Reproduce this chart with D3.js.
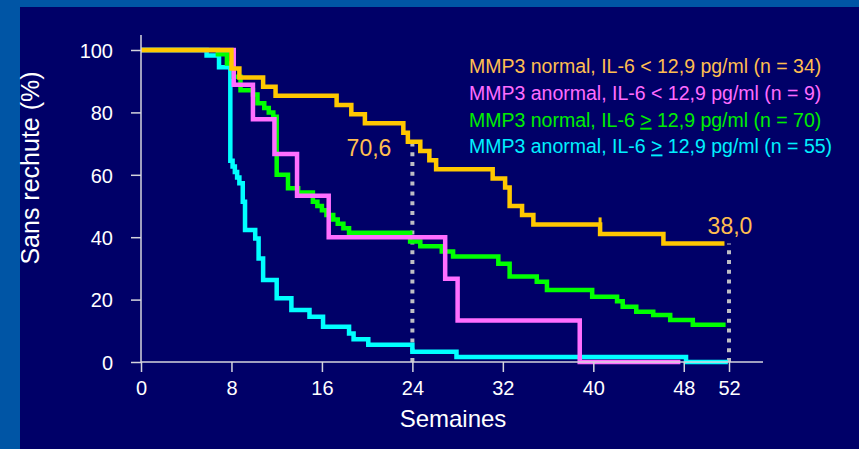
<!DOCTYPE html>
<html>
<head>
<meta charset="utf-8">
<script src="https://cdn.jsdelivr.net/npm/d3@7"></script>
<style>
  html, body { margin: 0; padding: 0; background: #0055a5; }
  svg { display: block; }
  text { font-family: "Liberation Sans", Arial, Helvetica, sans-serif; }
</style>
</head>
<body>
<svg id="chart" width="859" height="449"></svg>
<script>
// Kaplan-Meier curves: week of each step and relapse-free percentage after it
const orangeWeeks = [0, 8.0, 8.7, 10.8, 11.9, 17.3, 18.6, 19.8, 23.2, 23.6, 24.7, 25.5, 26.1, 31.1, 32.2, 32.6, 33.7, 34.7, 40.6, 46.2, 51.6];
const orangeSurv  = [100, 94.1, 91.2, 88.2, 85.3, 82.4, 79.4, 76.5, 73.5, 70.6, 67.6, 64.7, 61.8, 58.8, 55.9, 50.0, 47.1, 44.1, 41.0, 38.0, 38.0];
const orangeCensorWeeks = [40.6];
const orangeCensorSurv  = [44.1];

const pinkWeeks = [0, 8.2, 9.9, 11.8, 13.8, 16.6, 26.9, 28.0, 38.8, 47.7];
const pinkSurv  = [100, 88.9, 77.8, 66.7, 53.3, 40.0, 26.7, 13.3, 0, 0];

const greenWeeks = [0, 6.8, 7.6, 8.2, 8.8, 9.9, 10.3, 10.9, 11.3, 11.7, 12.0, 13.0, 13.9, 15.2, 15.6, 16.0, 16.4, 17.0, 17.4, 17.9, 18.4, 23.8, 24.7, 26.6, 27.6, 31.6, 32.6, 35.0, 35.9, 39.9, 42.1, 42.6, 43.8, 45.3, 46.8, 48.8, 51.7];
const greenSurv  = [100, 98.6, 95.7, 91.4, 87.1, 85.7, 82.9, 81.4, 80.0, 78.6, 60.0, 55.7, 54.3, 51.4, 50.0, 48.6, 47.1, 45.7, 44.3, 42.9, 41.4, 38.6, 37.1, 35.4, 33.8, 31.5, 27.4, 25.7, 23.1, 20.9, 19.5, 17.7, 16.1, 15.1, 13.5, 11.9, 11.9];

const cyanWeeks = [0, 5.8, 6.9, 7.9, 8.1, 8.3, 8.5, 8.7, 9.0, 9.2, 10.1, 10.4, 10.8, 12.0, 13.3, 14.9, 16.1, 18.4, 18.8, 20.1, 24.0, 27.9, 48.2, 51.9];
const cyanSurv  = [100, 98.2, 94.5, 64.5, 62.7, 60.9, 59.1, 57.3, 51.4, 42.3, 39.6, 33.2, 26.3, 20.4, 16.7, 14.5, 11.3, 9.1, 7.3, 5.5, 3.3, 1.6, 0, 0];

// Axis ticks and titles
const xTicks = [0, 8, 16, 24, 32, 40, 48, 52];
const yTicks = [0, 20, 40, 60, 80, 100];
const xTitle = "Semaines";
const yTitle = "Sans rechute (%)";

// Reference values marked by dotted drop lines
const calloutWeeks  = [24, 52];
const calloutValues = [70.6, 38.0];
const calloutLabels = ["70,6", "38,0"];

// Legend entries (sign part is kept separate so "≥" can be drawn as underlined ">")
const legendStart = ["MMP3 normal, IL-6 ", "MMP3 anormal, IL-6 ", "MMP3 normal, IL-6 ", "MMP3 anormal, IL-6 "];
const legendSign  = ["<", "<", ">", ">"];
const legendSignUnderlined = [false, false, true, true];
const legendEnd   = [" 12,9 pg/ml (n = 34)", " 12,9 pg/ml (n = 9)", " 12,9 pg/ml (n = 70)", " 12,9 pg/ml (n = 55)"];

const lineColors = { orange: "#ffc800", pink: "#ff6eff", green: "#00ff00", cyan: "#00ffff" };
const textColors = ["#ffbe50", "#ff6cff", "#00ee00", "#00f0ff"];

const svg = d3.select("#chart");
const W = 859, H = 449;

// Slide frame
svg.append("rect").attr("x", 0).attr("y", 0).attr("width", W).attr("height", H).attr("fill", "#0055a5");
svg.append("rect").attr("x", 20).attr("y", 7).attr("width", W - 20).attr("height", H - 7).attr("fill", "#000068");

const x = d3.scaleLinear().domain([0, 52]).range([141, 729]);
const y = d3.scaleLinear().domain([0, 100]).range([362, 50]);

const axisColor = "#d4d4dc";

// Dotted reference lines
calloutWeeks.forEach((w, i) => {
  svg.append("line")
    .attr("x1", x(w)).attr("x2", x(w))
    .attr("y1", y(0)).attr("y2", y(calloutValues[i]))
    .attr("stroke", "#bdbdc4").attr("stroke-width", 4)
    .attr("stroke-dasharray", "4 5.8");
});

// Survival curves (drawn bottom-most first)
const line = d3.line()
  .x(d => x(d[0]))
  .y(d => y(d[1]))
  .curve(d3.curveStepAfter);

const series = [
  { weeks: cyanWeeks,   surv: cyanSurv,   color: lineColors.cyan },
  { weeks: greenWeeks,  surv: greenSurv,  color: lineColors.green },
  { weeks: pinkWeeks,   surv: pinkSurv,   color: lineColors.pink },
  { weeks: orangeWeeks, surv: orangeSurv, color: lineColors.orange }
];

series.forEach(s => {
  const pts = s.weeks.map((w, i) => [w, s.surv[i]]);
  svg.append("path")
    .datum(pts)
    .attr("d", line)
    .attr("fill", "none")
    .attr("stroke", s.color)
    .attr("stroke-width", 4.5)
    .attr("stroke-linejoin", "miter");
});

// Censor marks
orangeCensorWeeks.forEach((w, i) => {
  svg.append("line")
    .attr("x1", x(w)).attr("x2", x(w))
    .attr("y1", y(orangeCensorSurv[i])).attr("y2", y(orangeCensorSurv[i]) - 7)
    .attr("stroke", lineColors.orange).attr("stroke-width", 3);
});

// Axes
const xAxis = svg.append("g").attr("transform", `translate(0,${y(0)})`)
  .call(d3.axisBottom(x).tickValues(xTicks).tickFormat(d3.format("d")).tickSize(10).tickPadding(8));
const yAxis = svg.append("g").attr("transform", `translate(${x(0)},0)`)
  .call(d3.axisLeft(y).tickValues(yTicks).tickFormat(d3.format("d")).tickSize(10).tickPadding(18));

[xAxis, yAxis].forEach(g => {
  g.select(".domain").remove();
  g.selectAll(".tick line").attr("stroke", axisColor).attr("stroke-width", 1.5);
  g.selectAll(".tick text").attr("fill", "#ffffff").attr("font-size", 20)
    .style("font-family", "'Liberation Sans', Arial, sans-serif");
});
xAxis.selectAll(".tick text").attr("dy", "0.75em");
yAxis.selectAll(".tick text").attr("dy", "0.36em");

// Axis lines
svg.append("line").attr("x1", x(0)).attr("x2", x(0)).attr("y1", 35).attr("y2", y(0))
  .attr("stroke", axisColor).attr("stroke-width", 1.5);
svg.append("line").attr("x1", x(0)).attr("x2", 763).attr("y1", y(0)).attr("y2", y(0))
  .attr("stroke", axisColor).attr("stroke-width", 1.5);

// Axis titles
svg.append("text").attr("x", 453).attr("y", 427).attr("text-anchor", "middle")
  .attr("fill", "#ffffff").attr("font-size", 24).text(xTitle);
svg.append("text").attr("transform", "translate(39,168) rotate(-90)").attr("text-anchor", "middle")
  .attr("fill", "#ffffff").attr("font-size", 25).text(yTitle);

// Callout values
svg.append("text").attr("x", x(calloutWeeks[0]) - 21).attr("y", y(calloutValues[0]) + 14)
  .attr("text-anchor", "end").attr("fill", textColors[0]).attr("font-size", 23).text(calloutLabels[0]);
svg.append("text").attr("x", x(calloutWeeks[1]) + 1).attr("y", y(calloutValues[1]) - 9)
  .attr("text-anchor", "middle").attr("fill", textColors[0]).attr("font-size", 23).text(calloutLabels[1]);

// Legend
legendStart.forEach((t, i) => {
  const txt = svg.append("text")
    .attr("x", 469).attr("y", 73.3 + i * 26.7)
    .attr("fill", textColors[i]).attr("font-size", 19.5);
  txt.append("tspan").text(t);
  const sign = txt.append("tspan").text(legendSign[i]);
  if (legendSignUnderlined[i]) sign.style("text-decoration", "underline");
  txt.append("tspan").text(legendEnd[i]);
});
</script>
</body>
</html>
